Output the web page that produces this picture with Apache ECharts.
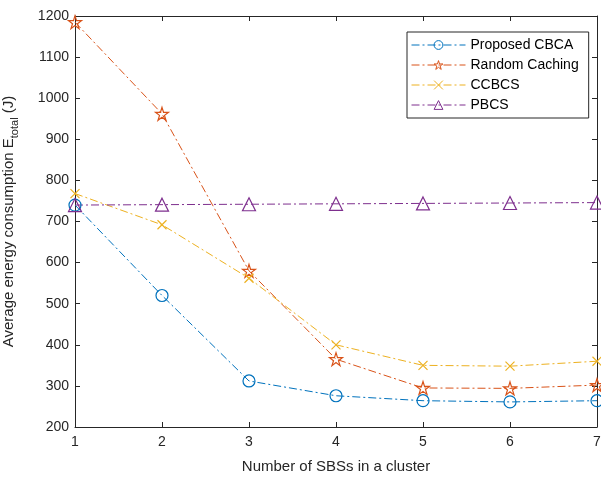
<!DOCTYPE html>
<html>
<head>
<meta charset="utf-8">
<script src="https://cdn.jsdelivr.net/npm/echarts@6/dist/echarts.min.js"></script>
<style>
  html, body { margin: 0; padding: 0; background: #fff; }
  #chart { width: 601px; height: 481px; }
</style>
</head>
<body>
<div id="chart"></div>
<script>
// number of SBSs in a cluster
const clusterSizes = [1, 2, 3, 4, 5, 6, 7];
const proposedCBCA = [740, 520, 312, 276, 264, 261, 264];
const randomCaching = [1185, 962, 580, 365, 295, 294, 302];
const ccbcs = [768, 692, 562, 400, 350, 348, 360];
const pbcs = [740, 741, 742, 743, 744, 745, 746];
const yTicks = [200, 300, 400, 500, 600, 700, 800, 900, 1000, 1100, 1200];

const starPath = 'path://M50 0 L61.2 34.55 L97.55 34.55 L68.2 55.9 L79.4 90.45 L50 69.1 L20.6 90.45 L31.8 55.9 L2.45 34.55 L38.8 34.55 Z';
const crossPath = 'path://M0 0 L10 10 M10 0 L0 10';
const font = 'Liberation Sans, Arial, sans-serif';
const dashDot = [8, 3, 2, 3];

function mkSeries(name, vals, color, symbol, size) {
  return {
    name: name,
    type: 'line',
    data: clusterSizes.map((x, i) => [x, vals[i]]),
    symbol: symbol,
    symbolSize: size,
    color: color,
    lineStyle: { color: color, width: 1, type: dashDot },
    itemStyle: { color: 'rgba(255,255,255,0)', borderColor: color, borderWidth: 1.2 },
    emphasis: { disabled: true },
    z: 3
  };
}

const chart = echarts.init(document.getElementById('chart'), null, { renderer: 'canvas' });
const axisLine = { show: true, lineStyle: { color: '#262626', width: 1 } };
chart.setOption({
  animation: false,
  backgroundColor: '#fff',
  textStyle: { fontFamily: font },
  grid: { left: 75, right: 4, top: 16, bottom: 54, containLabel: false, outerBoundsMode: 'none' },
  legend: {
    orient: 'vertical',
    left: 407,
    top: 32,
    itemWidth: 54,
    itemHeight: 11,
    itemGap: 6,
    padding: [6, 10, 6, 4],
    backgroundColor: '#fff',
    borderColor: '#262626',
    borderWidth: 1,
    borderRadius: 0,
    lineStyle: { width: 1 },
    itemStyle: { borderWidth: 1 },
    textStyle: { fontFamily: font, fontSize: 14, color: '#000' },
    data: ['Proposed CBCA', 'Random Caching', 'CCBCS', 'PBCS']
  },
  xAxis: [{
    type: 'value', min: 1, max: 7, interval: 1,
    name: 'Number of SBSs in a cluster',
    nameLocation: 'middle', nameGap: 32,
    nameTextStyle: { fontFamily: font, fontSize: 15, color: '#262626' },
    axisLine: axisLine,
    axisTick: { inside: true, length: 5, lineStyle: { color: '#262626' } },
    axisLabel: { fontFamily: font, fontSize: 14, color: '#262626', margin: 8 },
    splitLine: { show: false }
  }, {
    type: 'value', min: 1, max: 7, interval: 1, position: 'top',
    axisLine: axisLine,
    axisTick: { inside: true, length: 5, lineStyle: { color: '#262626' } },
    axisLabel: { show: false },
    splitLine: { show: false }
  }],
  yAxis: [{
    type: 'value', min: yTicks[0], max: yTicks[yTicks.length - 1], interval: 100,
    name: 'Average energy consumption E{sub|total} (J)',
    nameLocation: 'middle', nameGap: 55,
    nameTextStyle: {
      fontFamily: font, fontSize: 15, color: '#262626',
      rich: { sub: { fontFamily: font, fontSize: 11, color: '#262626', padding: [12, 0, 0, 0] } }
    },
    axisLine: axisLine,
    axisTick: { inside: true, length: 5, lineStyle: { color: '#262626' } },
    axisLabel: { fontFamily: font, fontSize: 14, color: '#262626', margin: 6, formatter: v => String(v) },
    splitLine: { show: false }
  }, {
    type: 'value', min: yTicks[0], max: yTicks[yTicks.length - 1], interval: 100, position: 'right',
    axisLine: axisLine,
    axisTick: { inside: true, length: 5, lineStyle: { color: '#262626' } },
    axisLabel: { show: false },
    splitLine: { show: false }
  }],
  series: [
    mkSeries('Proposed CBCA', proposedCBCA, '#0072BD', 'circle', 12),
    mkSeries('Random Caching', randomCaching, '#D95319', starPath, 13),
    mkSeries('CCBCS', ccbcs, '#EDB120', crossPath, 9),
    mkSeries('PBCS', pbcs, '#7E2F8E', 'triangle', 13)
  ]
});
</script>
</body>
</html>
